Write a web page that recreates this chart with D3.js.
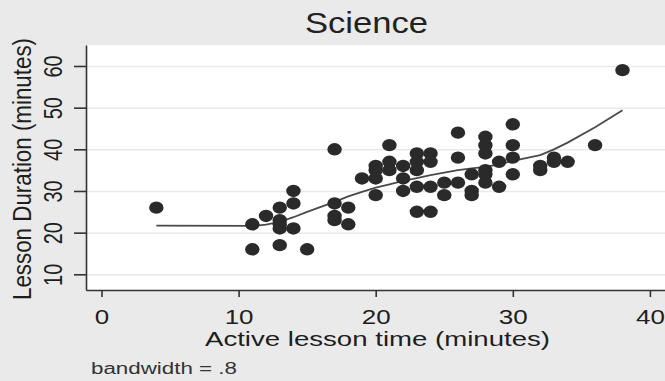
<!DOCTYPE html>
<html>
<head>
<meta charset="utf-8">
<script src="https://cdn.jsdelivr.net/npm/d3@7"></script>
<style>
  html, body { margin: 0; padding: 0; background: #eaeaea; }
  svg { display: block; font-family: "Liberation Sans", Arial, sans-serif; }
</style>
</head>
<body>
<div id="canvas"></div>
<script>
// data
const activeTime = [4, 11, 11, 12, 13, 13, 13, 13, 13, 14, 14, 14, 15,
  17, 17, 17, 17, 18, 18, 19, 20, 20, 20, 20, 21, 21, 21, 22, 22, 22,
  23, 23, 23, 23, 23, 24, 24, 24, 24, 25, 25, 26, 26, 26, 27, 27, 27,
  28, 28, 28, 28, 28, 28, 29, 29, 30, 30, 30, 30, 32, 32, 33, 33, 34, 36, 38];
const duration = [26, 22, 16, 24, 26, 23, 21, 22, 17, 30, 27, 21, 16,
  40, 27, 24, 23, 26, 22, 33, 36, 35, 33, 29, 41, 37, 35, 36, 33, 30,
  39, 37, 35, 31, 25, 39, 37, 31, 25, 32, 29, 44, 38, 32, 34, 30, 29,
  43, 41, 39, 35, 34, 32, 37, 31, 46, 41, 38, 34, 36, 35, 38, 37, 37, 41, 59];

// lowess fit (bandwidth .8)
const lowessX = [4, 11, 12, 13, 14, 15, 17, 18, 19, 20, 21, 22, 23, 24, 25,
  26, 27, 28, 29, 30, 32, 33, 34, 36, 38];
const lowessY = [21.7, 21.6, 21.9, 22.6, 23.7, 25.0, 27.4, 28.7, 29.8, 30.8,
  31.6, 32.4, 33.1, 33.8, 34.4, 35.0, 35.4, 35.8, 36.4, 37.2, 38.6, 40.0,
  41.6, 45.3, 49.4];

const xTicks = [0, 10, 20, 30, 40];
const yTicks = [10, 20, 30, 40, 50, 60];

const W = 665, H = 381;
const plot = { left: 86, top: 45, right: 665, bottom: 290 };

const svg = d3.select("#canvas").append("svg")
  .attr("width", W)
  .attr("height", H)
  .attr("viewBox", "0 0 " + W + " " + H);

svg.append("rect")
  .attr("width", W).attr("height", H)
  .attr("fill", "#eaeaea");

// plot region
svg.append("rect")
  .attr("x", plot.left).attr("y", plot.top)
  .attr("width", plot.right - plot.left)
  .attr("height", plot.bottom - plot.top)
  .attr("fill", "#ffffff");

const xScale = d3.scaleLinear()
  .domain([-1.13, 41.1])
  .range([plot.left, plot.right]);

const yScale = d3.scaleLinear()
  .domain([6.23, 65.04])
  .range([plot.bottom, plot.top]);

// grid lines
svg.append("g")
  .attr("class", "grid")
  .attr("transform", "translate(" + plot.left + ",0)")
  .call(d3.axisLeft(yScale).tickValues(yTicks)
    .tickSize(-(plot.right - plot.left)).tickFormat(""))
  .call(g => g.select(".domain").remove())
  .call(g => g.selectAll("line")
    .attr("stroke", "#e9e9e9")
    .attr("stroke-width", 1.5));

// lowess line
const line = d3.line()
  .x(d => xScale(d[0]))
  .y(d => yScale(d[1]));

svg.append("path")
  .datum(lowessX.map((x, i) => [x, lowessY[i]]))
  .attr("fill", "none")
  .attr("stroke", "#4a4a4a")
  .attr("stroke-width", 1.8)
  .attr("d", line);

// points
svg.append("g")
  .selectAll("ellipse")
  .data(activeTime.map((x, i) => [x, duration[i]]))
  .enter().append("ellipse")
  .attr("cx", d => xScale(d[0]))
  .attr("cy", d => yScale(d[1]))
  .attr("rx", 7.2)
  .attr("ry", 6.2)
  .attr("fill", "#2a2a2a");

// axis x
svg.append("g")
  .attr("class", "axis axis--x")
  .attr("transform", "translate(0," + plot.bottom + ")")
  .call(d3.axisBottom(xScale).tickValues(xTicks).tickSize(7).tickSizeOuter(0))
  .call(g => {
    g.select(".domain").attr("stroke", "#333").attr("stroke-width", 1.6);
    g.selectAll(".tick line").attr("stroke", "#333").attr("stroke-width", 1.6);
    g.selectAll(".tick text")
      .attr("y", 0).attr("dy", 0)
      .attr("transform", "translate(0,34) scale(1.3,1)")
      .attr("font-size", 20)
      .attr("font-family", "Liberation Sans, Arial, sans-serif")
      .attr("fill", "#1e1e1e");
  });

// axis y
svg.append("g")
  .attr("class", "axis axis--y")
  .attr("transform", "translate(" + plot.left + ",0)")
  .call(d3.axisLeft(yScale).tickValues(yTicks).tickSize(12).tickSizeOuter(0))
  .call(g => {
    g.select(".domain").attr("stroke", "#333").attr("stroke-width", 1.6);
    g.selectAll(".tick line").attr("stroke", "#333").attr("stroke-width", 1.6);
    g.selectAll(".tick text")
      .attr("x", 0).attr("y", 0).attr("dy", 0)
      .attr("text-anchor", "middle")
      .attr("transform", "translate(-24,0) rotate(-90) scale(1,1.26)")
      .attr("font-size", 20)
      .attr("font-family", "Liberation Sans, Arial, sans-serif")
      .attr("fill", "#1e1e1e");
  });

// title
svg.append("text")
  .attr("x", 366.5).attr("y", 33)
  .attr("text-anchor", "middle")
  .attr("font-size", 30)
  .attr("textLength", 123)
  .attr("lengthAdjust", "spacingAndGlyphs")
  .attr("fill", "#222")
  .text("Science");

// axis titles
svg.append("text")
  .attr("x", 377.5).attr("y", 346)
  .attr("text-anchor", "middle")
  .attr("font-size", 20)
  .attr("textLength", 345)
  .attr("lengthAdjust", "spacingAndGlyphs")
  .attr("fill", "#1e1e1e")
  .text("Active lesson time (minutes)");

svg.append("text")
  .attr("transform", "translate(31,169) rotate(-90) scale(1,1.2)")
  .attr("text-anchor", "middle")
  .attr("font-size", 22)
  .attr("textLength", 262)
  .attr("lengthAdjust", "spacingAndGlyphs")
  .attr("fill", "#1e1e1e")
  .text("Lesson Duration (minutes)");

// note
svg.append("text")
  .attr("x", 91).attr("y", 374)
  .attr("font-size", 16)
  .attr("textLength", 146)
  .attr("lengthAdjust", "spacingAndGlyphs")
  .attr("fill", "#333")
  .text("bandwidth = .8");
</script>
</body>
</html>
